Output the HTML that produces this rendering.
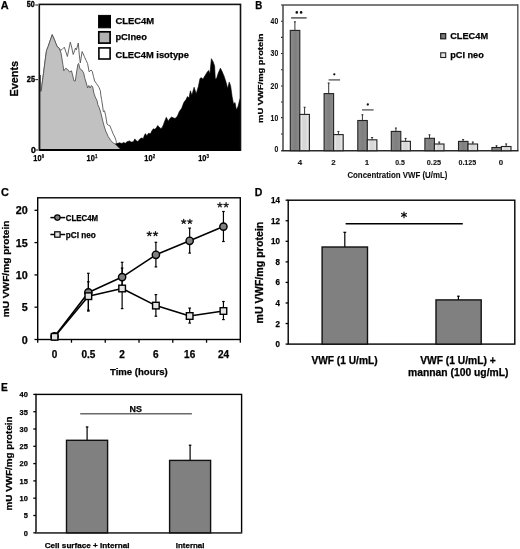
<!DOCTYPE html>
<html><head><meta charset="utf-8"><title>Figure</title>
<style>
html,body{margin:0;padding:0;background:#fff;}
body{width:520px;height:549px;overflow:hidden;}
svg{display:block;will-change:transform;font-family:"Liberation Sans", sans-serif;font-weight:bold;}
text{stroke:currentColor;stroke-width:0.25px;}
</style></head>
<body>
<svg width="520" height="549" viewBox="0 0 520 549">
<rect width="520" height="549" fill="#fff"/>
<text x="0.7" y="9.2" font-size="11" textLength="7.9" lengthAdjust="spacingAndGlyphs">A</text>
<polygon points="40.0,75 40.5,91.5 41.2,91.2 42.2,83 43.3,75 45.1,60.8 46.5,50.7 48.1,46.6 52.2,34.7 54.6,40.2 57.1,46.6 59,47.9 60.6,50.4 62,49.5 64.3,47.2 65.6,51 67.4,56.5 68.9,49 70.3,42.2 71.6,47 73.2,54.5 74.5,51 75.5,48 76.4,49.9 78.3,43 79.3,55 80.3,63 82.1,51.5 84.4,56.6 86.1,60.5 87.6,63.6 89.1,71.8 91.1,70 92.3,71.5 93.5,76.6 94.6,81 96.5,83.6 99,87.4 100.3,90.6 100.9,95.7 101.6,99.5 102.9,108 103.3,111.6 104.5,110.8 105.7,115.7 107,124 108.2,125.2 109.8,125.6 111.5,129.7 113.1,133.8 114.8,137 116,140.3 116.4,142.8 117.2,143.6 119,147 121,150.5 40,150.5" fill="#fff" stroke="#555" stroke-width="0.9" stroke-linejoin="round"/>
<polygon points="112,150.5 114.9,144.1 117.8,143.3 119.5,142.7 121.8,143.5 123.6,142.4 125.3,143.3 127,141.8 129.4,140.9 131.1,142.1 133.4,141.8 134.8,138.9 136.3,140.7 138,141.6 139.4,139.4 141.3,138 143.3,138.5 144.7,134.6 145.7,133.7 146.6,136.1 148.6,133.2 150.5,133.7 151.9,130.8 153.4,128.8 154.8,129.3 156.3,127.9 157.7,125.5 159.1,126.9 160.6,128.4 162,127.9 163.5,124.5 164.9,120.7 166.3,117.3 167.3,119.2 168.3,121.2 169.7,118.8 171.6,117.1 173.1,117.8 175.1,118.5 177.3,116.3 179.5,111.2 181.7,108.3 183.8,102.5 186,99.6 187.5,96.6 189,98.1 190.4,90.8 191.9,95.2 194.1,87.2 196.2,93.7 198.4,86.4 200,78.4 201.5,77.7 202.9,79.2 205.1,75.5 207.3,71.9 208.7,70.4 209.9,74 211.4,58.7 213.1,61.7 214.6,66 215.3,79.2 216.8,77.7 218.2,73.3 220.4,68.2 221.9,71.1 224.1,76.2 226.2,82.8 227.7,88.6 229.2,82.1 230.6,85.7 232.1,96.6 233.5,103.9 235,102.5 236.4,109.8 237.9,106.9 239.4,101 240.4,98.1 240.4,150.5" fill="#000" stroke="#000" stroke-width="0.6" stroke-linejoin="round"/>
<polygon points="40.0,75 40.5,91.5 41.2,91.2 42.2,83 43.3,75 45.1,60.8 46.5,50.7 48.1,46.6 52.2,34.7 54.6,40.2 57.1,46.6 59,47.9 61,53 62.9,64.4 63.8,70.8 65.7,68.3 67.7,69.5 69.6,72 71.5,70.8 72.8,76 74,81 75.3,81 76.6,72 77.9,64.4 78.6,63.4 79.9,68.7 81.8,70 83.7,73.1 84.9,78.5 86.3,83 87.6,88 88.8,85.5 90.1,88 91.4,85.5 92.7,86.8 93.9,93.2 95.2,97 97.1,100.8 97.8,104.6 99,107.2 100.3,111 101.6,116 102.9,121.5 104.1,126 105.7,131 108.2,136.5 110.7,140.5 113.1,142.8 115.6,144.4 118,146.9 120.5,149.3 122,150.5 40,150.5" fill="#c1c1c1" stroke="#555" stroke-width="0.9" stroke-linejoin="round"/>
<rect x="39.3" y="4.4" width="201.2" height="145.6" fill="none" stroke="#111" stroke-width="1.6"/>
<line x1="39.3" y1="150.0" x2="240.5" y2="150.0" stroke="#000" stroke-width="2.1"/>
<text x="26.7" y="6.9" font-size="9.2" textLength="7.9" lengthAdjust="spacingAndGlyphs" style="stroke-width:0.4px">50</text>
<text x="26.8" y="81.9" font-size="9.2" textLength="8.2" lengthAdjust="spacingAndGlyphs" style="stroke-width:0.4px">25</text>
<text x="31.0" y="152.8" font-size="9.2" textLength="4.8" lengthAdjust="spacingAndGlyphs" style="stroke-width:0.4px">0</text>
<line x1="35.3" y1="5.0" x2="38.0" y2="5.0" stroke="#333" stroke-width="1.1"/>
<line x1="35.3" y1="79.6" x2="38.0" y2="79.6" stroke="#333" stroke-width="1.1"/>
<line x1="35.3" y1="150.0" x2="38.0" y2="150.0" stroke="#333" stroke-width="1.1"/>
<text transform="translate(17.6 78.7) rotate(-90)" text-anchor="middle" font-size="10.8" textLength="35.5" lengthAdjust="spacingAndGlyphs">Events</text>
<text x="33.3" y="160.7" font-size="8.2" textLength="8.2" lengthAdjust="spacingAndGlyphs">10</text>
<text x="41.699999999999996" y="158.1" font-size="5.4" textLength="2.4" lengthAdjust="spacingAndGlyphs">0</text>
<text x="86.6" y="160.7" font-size="8.2" textLength="8.2" lengthAdjust="spacingAndGlyphs">10</text>
<text x="95.0" y="158.1" font-size="5.4" textLength="2.4" lengthAdjust="spacingAndGlyphs">1</text>
<text x="144.3" y="160.7" font-size="8.2" textLength="8.2" lengthAdjust="spacingAndGlyphs">10</text>
<text x="152.70000000000002" y="158.1" font-size="5.4" textLength="2.4" lengthAdjust="spacingAndGlyphs">2</text>
<text x="198.2" y="160.7" font-size="8.2" textLength="8.2" lengthAdjust="spacingAndGlyphs">10</text>
<text x="206.6" y="158.1" font-size="5.4" textLength="2.4" lengthAdjust="spacingAndGlyphs">3</text>
<rect x="98.6" y="15.4" width="11.9" height="12.4" fill="#000" stroke="#000" stroke-width="1.0"/>
<rect x="98.8" y="31.8" width="11.3" height="11.3" fill="#b2b2b2" stroke="#000" stroke-width="1.7"/>
<rect x="98.9" y="47.9" width="11.2" height="11.1" fill="#fff" stroke="#000" stroke-width="1.6"/>
<text x="115.4" y="24.2" font-size="9.8" textLength="38.8" lengthAdjust="spacingAndGlyphs">CLEC4M</text>
<text x="115.4" y="39.9" font-size="9.8" textLength="31.6" lengthAdjust="spacingAndGlyphs">pCIneo</text>
<text x="115.4" y="58.2" font-size="9.8" textLength="73.6" lengthAdjust="spacingAndGlyphs">CLEC4M isotype</text>
<text x="255.3" y="8.9" font-size="10.2" textLength="7.0" lengthAdjust="spacingAndGlyphs">B</text>
<line x1="281.0" y1="21.2" x2="283" y2="21.2" stroke="#222" stroke-width="1.1"/>
<line x1="281.0" y1="37.4" x2="283" y2="37.4" stroke="#222" stroke-width="1.1"/>
<line x1="281.0" y1="53.5" x2="283" y2="53.5" stroke="#222" stroke-width="1.1"/>
<line x1="281.0" y1="69.8" x2="283" y2="69.8" stroke="#222" stroke-width="1.1"/>
<line x1="281.0" y1="86.0" x2="283" y2="86.0" stroke="#222" stroke-width="1.1"/>
<line x1="281.0" y1="102.0" x2="283" y2="102.0" stroke="#222" stroke-width="1.1"/>
<line x1="281.0" y1="117.6" x2="283" y2="117.6" stroke="#222" stroke-width="1.1"/>
<line x1="281.0" y1="134.0" x2="283" y2="134.0" stroke="#222" stroke-width="1.1"/>
<text x="278.2" y="151.6" font-size="8.6" text-anchor="end" fill="#111" textLength="3.8" lengthAdjust="spacingAndGlyphs" style="stroke-width:0.1px">0</text>
<text x="278.2" y="120.5" font-size="8.6" text-anchor="end" fill="#111" textLength="7.6" lengthAdjust="spacingAndGlyphs" style="stroke-width:0.1px">10</text>
<text x="278.2" y="88.9" font-size="8.6" text-anchor="end" fill="#111" textLength="7.6" lengthAdjust="spacingAndGlyphs" style="stroke-width:0.1px">20</text>
<text x="278.2" y="56.4" font-size="8.6" text-anchor="end" fill="#111" textLength="7.6" lengthAdjust="spacingAndGlyphs" style="stroke-width:0.1px">30</text>
<text x="278.2" y="23.7" font-size="8.6" text-anchor="end" fill="#111" textLength="7.6" lengthAdjust="spacingAndGlyphs" style="stroke-width:0.1px">40</text>
<line x1="283" y1="4.9" x2="283" y2="150.7" stroke="#505050" stroke-width="1.6"/>
<line x1="281.2" y1="4.9" x2="518" y2="4.9" stroke="#505050" stroke-width="1.5"/>
<line x1="517.8" y1="4.2" x2="517.8" y2="150.7" stroke="#505050" stroke-width="1.4"/>
<line x1="281.2" y1="150.7" x2="518.5" y2="150.7" stroke="#2a2a2a" stroke-width="1.6"/>
<defs><linearGradient id="gd" x1="0" x2="1" y1="0" y2="0"><stop offset="0" stop-color="#8c8c8c"/><stop offset="0.5" stop-color="#7f7f7f"/><stop offset="1" stop-color="#8a8a8a"/></linearGradient><linearGradient id="gl" x1="0" x2="1" y1="0" y2="0"><stop offset="0" stop-color="#dcdcdc"/><stop offset="0.15" stop-color="#ebebeb"/><stop offset="0.3" stop-color="#d8d8d8"/><stop offset="0.65" stop-color="#d8d8d8"/><stop offset="0.82" stop-color="#e6e6e6"/><stop offset="1" stop-color="#cfcfcf"/></linearGradient></defs>
<line x1="294.90000000000003" y1="21.5" x2="294.90000000000003" y2="30.4" stroke="#333" stroke-width="1.0"/>
<line x1="293.90000000000003" y1="21.9" x2="295.90000000000003" y2="21.9" stroke="#333" stroke-width="1.0"/>
<line x1="304.6" y1="106.9" x2="304.6" y2="114.4" stroke="#333" stroke-width="1.0"/>
<line x1="303.6" y1="107.30000000000001" x2="305.6" y2="107.30000000000001" stroke="#333" stroke-width="1.0"/>
<rect x="290.30" y="30.4" width="9.5" height="120.30" fill="url(#gd)" stroke="#222" stroke-width="1.1"/>
<rect x="299.80" y="114.4" width="9.6" height="36.30" fill="url(#gl)" stroke="#222" stroke-width="1.1"/>
<line x1="328.70000000000005" y1="82.7" x2="328.70000000000005" y2="93.6" stroke="#333" stroke-width="1.0"/>
<line x1="327.70000000000005" y1="83.10000000000001" x2="329.70000000000005" y2="83.10000000000001" stroke="#333" stroke-width="1.0"/>
<line x1="338.40000000000003" y1="131.1" x2="338.40000000000003" y2="134.6" stroke="#333" stroke-width="1.0"/>
<line x1="337.40000000000003" y1="131.5" x2="339.40000000000003" y2="131.5" stroke="#333" stroke-width="1.0"/>
<rect x="324.10" y="93.6" width="9.5" height="57.10" fill="url(#gd)" stroke="#222" stroke-width="1.1"/>
<rect x="333.60" y="134.6" width="9.6" height="16.10" fill="url(#gl)" stroke="#222" stroke-width="1.1"/>
<line x1="362.40000000000003" y1="114.4" x2="362.40000000000003" y2="120.5" stroke="#333" stroke-width="1.0"/>
<line x1="361.40000000000003" y1="114.80000000000001" x2="363.40000000000003" y2="114.80000000000001" stroke="#333" stroke-width="1.0"/>
<line x1="372.1" y1="137.1" x2="372.1" y2="139.8" stroke="#333" stroke-width="1.0"/>
<line x1="371.1" y1="137.5" x2="373.1" y2="137.5" stroke="#333" stroke-width="1.0"/>
<rect x="357.80" y="120.5" width="9.5" height="30.20" fill="url(#gd)" stroke="#222" stroke-width="1.1"/>
<rect x="367.30" y="139.8" width="9.6" height="10.90" fill="url(#gl)" stroke="#222" stroke-width="1.1"/>
<line x1="395.90000000000003" y1="127.7" x2="395.90000000000003" y2="131.4" stroke="#333" stroke-width="1.0"/>
<line x1="394.90000000000003" y1="128.1" x2="396.90000000000003" y2="128.1" stroke="#333" stroke-width="1.0"/>
<line x1="405.6" y1="138.0" x2="405.6" y2="141.3" stroke="#333" stroke-width="1.0"/>
<line x1="404.6" y1="138.4" x2="406.6" y2="138.4" stroke="#333" stroke-width="1.0"/>
<rect x="391.30" y="131.4" width="9.5" height="19.30" fill="url(#gd)" stroke="#222" stroke-width="1.1"/>
<rect x="400.80" y="141.3" width="9.6" height="9.40" fill="url(#gl)" stroke="#222" stroke-width="1.1"/>
<line x1="429.5" y1="134.5" x2="429.5" y2="138.3" stroke="#333" stroke-width="1.0"/>
<line x1="428.5" y1="134.9" x2="430.5" y2="134.9" stroke="#333" stroke-width="1.0"/>
<line x1="439.2" y1="141.7" x2="439.2" y2="144.0" stroke="#333" stroke-width="1.0"/>
<line x1="438.2" y1="142.1" x2="440.2" y2="142.1" stroke="#333" stroke-width="1.0"/>
<rect x="424.90" y="138.3" width="9.5" height="12.40" fill="url(#gd)" stroke="#222" stroke-width="1.1"/>
<rect x="434.40" y="144.0" width="9.6" height="6.70" fill="url(#gl)" stroke="#222" stroke-width="1.1"/>
<line x1="463.1" y1="139.2" x2="463.1" y2="141.4" stroke="#333" stroke-width="1.0"/>
<line x1="462.1" y1="139.6" x2="464.1" y2="139.6" stroke="#333" stroke-width="1.0"/>
<line x1="472.8" y1="141.7" x2="472.8" y2="144.0" stroke="#333" stroke-width="1.0"/>
<line x1="471.8" y1="142.1" x2="473.8" y2="142.1" stroke="#333" stroke-width="1.0"/>
<rect x="458.50" y="141.4" width="9.5" height="9.30" fill="url(#gd)" stroke="#222" stroke-width="1.1"/>
<rect x="468.00" y="144.0" width="9.6" height="6.70" fill="url(#gl)" stroke="#222" stroke-width="1.1"/>
<line x1="496.5" y1="145.4" x2="496.5" y2="147.5" stroke="#333" stroke-width="1.0"/>
<line x1="495.5" y1="145.8" x2="497.5" y2="145.8" stroke="#333" stroke-width="1.0"/>
<line x1="506.2" y1="143.6" x2="506.2" y2="146.5" stroke="#333" stroke-width="1.0"/>
<line x1="505.2" y1="144.0" x2="507.2" y2="144.0" stroke="#333" stroke-width="1.0"/>
<rect x="491.90" y="147.5" width="9.5" height="3.20" fill="url(#gd)" stroke="#222" stroke-width="1.1"/>
<rect x="501.40" y="146.5" width="9.6" height="4.20" fill="url(#gl)" stroke="#222" stroke-width="1.1"/>
<line x1="291.1" y1="17.9" x2="306.6" y2="17.9" stroke="#555" stroke-width="1.5"/>
<circle cx="296.8" cy="12.4" r="1.3" fill="#111"/><circle cx="301.1" cy="12.4" r="1.3" fill="#111"/>
<line x1="328.6" y1="79.9" x2="340.1" y2="79.9" stroke="#555" stroke-width="1.3"/>
<circle cx="334.3" cy="74.3" r="1.15" fill="#111"/>
<line x1="362.0" y1="109.9" x2="373.6" y2="109.9" stroke="#555" stroke-width="1.3"/>
<circle cx="367.8" cy="104.5" r="1.15" fill="#111"/>
<rect x="440.7" y="33.6" width="5.0" height="5.2" fill="#7a7a7a" stroke="#1a1a1a" stroke-width="1.2"/>
<rect x="440.7" y="52.8" width="5.0" height="4.7" fill="#e4e4e4" stroke="#222" stroke-width="1.1"/>
<text x="450.2" y="39.4" font-size="9.8" textLength="37.9" lengthAdjust="spacingAndGlyphs">CLEC4M</text>
<text x="450.2" y="57.9" font-size="9.8" textLength="33.6" lengthAdjust="spacingAndGlyphs">pCI neo</text>
<text x="299.95" y="164.7" font-size="8.0" text-anchor="middle" fill="#111" textLength="4.4" lengthAdjust="spacingAndGlyphs" style="stroke-width:0.1px">4</text>
<text x="333.35" y="164.7" font-size="8.0" text-anchor="middle" fill="#111" textLength="4.4" lengthAdjust="spacingAndGlyphs" style="stroke-width:0.1px">2</text>
<text x="367.0" y="164.7" font-size="8.0" text-anchor="middle" fill="#111" textLength="4.4" lengthAdjust="spacingAndGlyphs" style="stroke-width:0.1px">1</text>
<text x="400.0" y="164.7" font-size="8.0" text-anchor="middle" fill="#111" textLength="9.6" lengthAdjust="spacingAndGlyphs" style="stroke-width:0.1px">0.5</text>
<text x="433.9" y="164.7" font-size="8.0" text-anchor="middle" fill="#111" textLength="14.2" lengthAdjust="spacingAndGlyphs" style="stroke-width:0.1px">0.25</text>
<text x="467.35" y="164.7" font-size="8.0" text-anchor="middle" fill="#111" textLength="17.8" lengthAdjust="spacingAndGlyphs" style="stroke-width:0.1px">0.125</text>
<text x="501.0" y="164.7" font-size="8.0" text-anchor="middle" fill="#111" textLength="4.4" lengthAdjust="spacingAndGlyphs" style="stroke-width:0.1px">0</text>
<text x="347.4" y="178.0" font-size="8.2" fill="#111" textLength="99.9" lengthAdjust="spacingAndGlyphs" style="stroke-width:0.1px">Concentration VWF (U/mL)</text>
<text transform="translate(263.2 78.2) rotate(-90)" text-anchor="middle" font-size="7.9" textLength="89.4" lengthAdjust="spacingAndGlyphs">mU VWF/mg protein</text>
<text x="0.9" y="196.1" font-size="11.2" textLength="7.9" lengthAdjust="spacingAndGlyphs">C</text>
<line x1="34.5" y1="339.5" x2="37.7" y2="339.5" stroke="#000" stroke-width="1.3"/>
<text x="27.8" y="343.6" font-size="10.6" text-anchor="end" textLength="6.0" lengthAdjust="spacingAndGlyphs">0</text>
<line x1="34.5" y1="307.2" x2="37.7" y2="307.2" stroke="#000" stroke-width="1.3"/>
<text x="27.8" y="311.3" font-size="10.6" text-anchor="end" textLength="6.0" lengthAdjust="spacingAndGlyphs">5</text>
<line x1="34.5" y1="274.9" x2="37.7" y2="274.9" stroke="#000" stroke-width="1.3"/>
<text x="27.8" y="279.0" font-size="10.6" text-anchor="end" textLength="12.0" lengthAdjust="spacingAndGlyphs">10</text>
<line x1="34.5" y1="242.6" x2="37.7" y2="242.6" stroke="#000" stroke-width="1.3"/>
<text x="27.8" y="246.7" font-size="10.6" text-anchor="end" textLength="12.0" lengthAdjust="spacingAndGlyphs">15</text>
<line x1="34.5" y1="210.3" x2="37.7" y2="210.3" stroke="#000" stroke-width="1.3"/>
<text x="27.8" y="214.4" font-size="10.6" text-anchor="end" textLength="12.0" lengthAdjust="spacingAndGlyphs">20</text>
<line x1="37.7" y1="339.5" x2="37.7" y2="342.7" stroke="#000" stroke-width="1.3"/>
<line x1="71.47" y1="339.5" x2="71.47" y2="342.7" stroke="#000" stroke-width="1.3"/>
<line x1="105.24000000000001" y1="339.5" x2="105.24000000000001" y2="342.7" stroke="#000" stroke-width="1.3"/>
<line x1="139.01" y1="339.5" x2="139.01" y2="342.7" stroke="#000" stroke-width="1.3"/>
<line x1="172.78000000000003" y1="339.5" x2="172.78000000000003" y2="342.7" stroke="#000" stroke-width="1.3"/>
<line x1="206.55" y1="339.5" x2="206.55" y2="342.7" stroke="#000" stroke-width="1.3"/>
<line x1="240.32" y1="339.5" x2="240.32" y2="342.7" stroke="#000" stroke-width="1.3"/>
<rect x="37.7" y="197.8" width="202.6" height="141.7" fill="none" stroke="#000" stroke-width="1.4"/>
<line x1="88.355" y1="273.3" x2="88.355" y2="311.1" stroke="#000" stroke-width="1.2"/>
<line x1="87.055" y1="273.3" x2="89.655" y2="273.3" stroke="#000" stroke-width="1.2"/>
<line x1="87.055" y1="311.1" x2="89.655" y2="311.1" stroke="#000" stroke-width="1.2"/>
<line x1="88.355" y1="281.8" x2="88.355" y2="310.2" stroke="#000" stroke-width="1.2"/>
<line x1="87.055" y1="281.8" x2="89.655" y2="281.8" stroke="#000" stroke-width="1.2"/>
<line x1="87.055" y1="310.2" x2="89.655" y2="310.2" stroke="#000" stroke-width="1.2"/>
<line x1="122.125" y1="262.3" x2="122.125" y2="291.3" stroke="#000" stroke-width="1.2"/>
<line x1="120.825" y1="262.3" x2="123.425" y2="262.3" stroke="#000" stroke-width="1.2"/>
<line x1="120.825" y1="291.3" x2="123.425" y2="291.3" stroke="#000" stroke-width="1.2"/>
<line x1="122.125" y1="268.1" x2="122.125" y2="308.6" stroke="#000" stroke-width="1.2"/>
<line x1="120.825" y1="268.1" x2="123.425" y2="268.1" stroke="#000" stroke-width="1.2"/>
<line x1="120.825" y1="308.6" x2="123.425" y2="308.6" stroke="#000" stroke-width="1.2"/>
<line x1="155.895" y1="242.3" x2="155.895" y2="266.9" stroke="#000" stroke-width="1.2"/>
<line x1="154.595" y1="242.3" x2="157.19500000000002" y2="242.3" stroke="#000" stroke-width="1.2"/>
<line x1="154.595" y1="266.9" x2="157.19500000000002" y2="266.9" stroke="#000" stroke-width="1.2"/>
<line x1="155.895" y1="294.6" x2="155.895" y2="316.2" stroke="#000" stroke-width="1.2"/>
<line x1="154.595" y1="294.6" x2="157.19500000000002" y2="294.6" stroke="#000" stroke-width="1.2"/>
<line x1="154.595" y1="316.2" x2="157.19500000000002" y2="316.2" stroke="#000" stroke-width="1.2"/>
<line x1="189.66500000000002" y1="228.1" x2="189.66500000000002" y2="253.1" stroke="#000" stroke-width="1.2"/>
<line x1="188.365" y1="228.1" x2="190.96500000000003" y2="228.1" stroke="#000" stroke-width="1.2"/>
<line x1="188.365" y1="253.1" x2="190.96500000000003" y2="253.1" stroke="#000" stroke-width="1.2"/>
<line x1="189.66500000000002" y1="308.1" x2="189.66500000000002" y2="323.1" stroke="#000" stroke-width="1.2"/>
<line x1="188.365" y1="308.1" x2="190.96500000000003" y2="308.1" stroke="#000" stroke-width="1.2"/>
<line x1="188.365" y1="323.1" x2="190.96500000000003" y2="323.1" stroke="#000" stroke-width="1.2"/>
<line x1="223.435" y1="211.5" x2="223.435" y2="241.5" stroke="#000" stroke-width="1.2"/>
<line x1="222.135" y1="211.5" x2="224.735" y2="211.5" stroke="#000" stroke-width="1.2"/>
<line x1="222.135" y1="241.5" x2="224.735" y2="241.5" stroke="#000" stroke-width="1.2"/>
<line x1="223.435" y1="301.5" x2="223.435" y2="319.6" stroke="#000" stroke-width="1.2"/>
<line x1="222.135" y1="301.5" x2="224.735" y2="301.5" stroke="#000" stroke-width="1.2"/>
<line x1="222.135" y1="319.6" x2="224.735" y2="319.6" stroke="#000" stroke-width="1.2"/>
<polyline points="54.585,336.4 88.355,292.4 122.125,277.1 155.895,254.8 189.66500000000002,240.8 223.435,226.6" fill="none" stroke="#000" stroke-width="1.6" stroke-linejoin="round"/>
<polyline points="54.585,336.8 88.355,296.2 122.125,288.5 155.895,305.6 189.66500000000002,316.0 223.435,311.0" fill="none" stroke="#000" stroke-width="1.6" stroke-linejoin="round"/>
<circle cx="54.59" cy="336.4" r="3.65" fill="#808080" stroke="#000" stroke-width="1.4"/>
<circle cx="88.36" cy="292.4" r="3.65" fill="#808080" stroke="#000" stroke-width="1.4"/>
<circle cx="122.12" cy="277.1" r="3.65" fill="#808080" stroke="#000" stroke-width="1.4"/>
<circle cx="155.90" cy="254.8" r="3.65" fill="#808080" stroke="#000" stroke-width="1.4"/>
<circle cx="189.67" cy="240.8" r="3.65" fill="#808080" stroke="#000" stroke-width="1.4"/>
<circle cx="223.44" cy="226.6" r="3.65" fill="#808080" stroke="#000" stroke-width="1.4"/>
<rect x="51.29" y="333.50" width="6.6" height="6.6" fill="#e4e4e4" stroke="#000" stroke-width="1.4"/>
<rect x="85.06" y="292.90" width="6.6" height="6.6" fill="#e4e4e4" stroke="#000" stroke-width="1.4"/>
<rect x="118.83" y="285.20" width="6.6" height="6.6" fill="#e4e4e4" stroke="#000" stroke-width="1.4"/>
<rect x="152.59" y="302.30" width="6.6" height="6.6" fill="#e4e4e4" stroke="#000" stroke-width="1.4"/>
<rect x="186.37" y="312.70" width="6.6" height="6.6" fill="#e4e4e4" stroke="#000" stroke-width="1.4"/>
<rect x="220.13" y="307.70" width="6.6" height="6.6" fill="#e4e4e4" stroke="#000" stroke-width="1.4"/>
<path d="M149.30,233.80L149.30,231.50M149.30,233.80L147.11,233.09M149.30,233.80L147.95,235.66M149.30,233.80L150.65,235.66M149.30,233.80L151.49,233.09" stroke="#1a1a1a" stroke-width="1.25" stroke-linecap="round" fill="none"/>
<path d="M155.50,233.80L155.50,231.50M155.50,233.80L153.31,233.09M155.50,233.80L154.15,235.66M155.50,233.80L156.85,235.66M155.50,233.80L157.69,233.09" stroke="#1a1a1a" stroke-width="1.25" stroke-linecap="round" fill="none"/>
<path d="M183.70,221.60L183.70,219.30M183.70,221.60L181.51,220.89M183.70,221.60L182.35,223.46M183.70,221.60L185.05,223.46M183.70,221.60L185.89,220.89" stroke="#1a1a1a" stroke-width="1.25" stroke-linecap="round" fill="none"/>
<path d="M189.90,221.60L189.90,219.30M189.90,221.60L187.71,220.89M189.90,221.60L188.55,223.46M189.90,221.60L191.25,223.46M189.90,221.60L192.09,220.89" stroke="#1a1a1a" stroke-width="1.25" stroke-linecap="round" fill="none"/>
<path d="M219.90,205.00L219.90,202.70M219.90,205.00L217.71,204.29M219.90,205.00L218.55,206.86M219.90,205.00L221.25,206.86M219.90,205.00L222.09,204.29" stroke="#1a1a1a" stroke-width="1.25" stroke-linecap="round" fill="none"/>
<path d="M226.10,205.00L226.10,202.70M226.10,205.00L223.91,204.29M226.10,205.00L224.75,206.86M226.10,205.00L227.45,206.86M226.10,205.00L228.29,204.29" stroke="#1a1a1a" stroke-width="1.25" stroke-linecap="round" fill="none"/>
<line x1="50.4" y1="217.6" x2="65.2" y2="217.6" stroke="#000" stroke-width="1.5"/>
<circle cx="57.4" cy="217.6" r="2.7" fill="#7f7f7f" stroke="#000" stroke-width="1.2"/>
<line x1="50.4" y1="234.5" x2="65.2" y2="234.5" stroke="#000" stroke-width="1.5"/>
<rect x="54.7" y="231.8" width="5.4" height="5.4" fill="#e2e2e2" stroke="#000" stroke-width="1.2"/>
<text x="65.8" y="220.8" font-size="8.2" textLength="32.3" lengthAdjust="spacingAndGlyphs">CLEC4M</text>
<text x="65.8" y="237.6" font-size="8.2" textLength="30.0" lengthAdjust="spacingAndGlyphs">pCI neo</text>
<text x="54.59" y="357.8" font-size="10" text-anchor="middle">0</text>
<text x="88.36" y="357.8" font-size="10" text-anchor="middle">0.5</text>
<text x="122.12" y="357.8" font-size="10" text-anchor="middle">2</text>
<text x="155.9" y="357.8" font-size="10" text-anchor="middle">6</text>
<text x="189.67" y="357.8" font-size="10" text-anchor="middle">16</text>
<text x="223.44" y="357.8" font-size="10" text-anchor="middle">24</text>
<text x="110.0" y="375.4" font-size="9.9" textLength="57.8" lengthAdjust="spacingAndGlyphs">Time (hours)</text>
<text transform="translate(8.7 268.9) rotate(-90)" text-anchor="middle" font-size="9.9" textLength="96.8" lengthAdjust="spacingAndGlyphs">mU VWF/mg protein</text>
<text x="254.8" y="196.1" font-size="10.5" textLength="7.6" lengthAdjust="spacingAndGlyphs">D</text>
<line x1="285.6" y1="344.1" x2="288.2" y2="344.1" stroke="#000" stroke-width="1.3"/>
<text x="279.9" y="347.1" font-size="8.2" text-anchor="end" textLength="4.45" lengthAdjust="spacingAndGlyphs">0</text>
<line x1="285.6" y1="323.54" x2="288.2" y2="323.54" stroke="#000" stroke-width="1.3"/>
<text x="279.9" y="326.54" font-size="8.2" text-anchor="end" textLength="4.45" lengthAdjust="spacingAndGlyphs">2</text>
<line x1="285.6" y1="302.98" x2="288.2" y2="302.98" stroke="#000" stroke-width="1.3"/>
<text x="279.9" y="305.98" font-size="8.2" text-anchor="end" textLength="4.45" lengthAdjust="spacingAndGlyphs">4</text>
<line x1="285.6" y1="282.42" x2="288.2" y2="282.42" stroke="#000" stroke-width="1.3"/>
<text x="279.9" y="285.42" font-size="8.2" text-anchor="end" textLength="4.45" lengthAdjust="spacingAndGlyphs">6</text>
<line x1="285.6" y1="261.86" x2="288.2" y2="261.86" stroke="#000" stroke-width="1.3"/>
<text x="279.9" y="264.86" font-size="8.2" text-anchor="end" textLength="4.45" lengthAdjust="spacingAndGlyphs">8</text>
<line x1="285.6" y1="241.3" x2="288.2" y2="241.3" stroke="#000" stroke-width="1.3"/>
<text x="279.9" y="244.3" font-size="8.2" text-anchor="end" textLength="8.9" lengthAdjust="spacingAndGlyphs">10</text>
<line x1="285.6" y1="220.74000000000004" x2="288.2" y2="220.74000000000004" stroke="#000" stroke-width="1.3"/>
<text x="279.9" y="223.74000000000004" font-size="8.2" text-anchor="end" textLength="8.9" lengthAdjust="spacingAndGlyphs">12</text>
<line x1="285.6" y1="200.18000000000004" x2="288.2" y2="200.18000000000004" stroke="#000" stroke-width="1.3"/>
<text x="279.9" y="203.18000000000004" font-size="8.2" text-anchor="end" textLength="8.9" lengthAdjust="spacingAndGlyphs">14</text>
<rect x="288.2" y="200.2" width="226.6" height="143.9" fill="none" stroke="#000" stroke-width="1.4"/>
<line x1="344.8" y1="232.1" x2="344.8" y2="247" stroke="#000" stroke-width="1.2"/>
<line x1="343.4" y1="232.3" x2="346.2" y2="232.3" stroke="#000" stroke-width="1.2"/>
<line x1="458.4" y1="296.0" x2="458.4" y2="300" stroke="#000" stroke-width="1.2"/>
<line x1="457.1" y1="296.2" x2="459.7" y2="296.2" stroke="#000" stroke-width="1.2"/>
<rect x="322.1" y="247.0" width="45.4" height="97.10000000000002" fill="#808080" stroke="#111" stroke-width="1.4"/>
<rect x="436.0" y="299.9" width="45.2" height="44.200000000000045" fill="#808080" stroke="#111" stroke-width="1.4"/>
<line x1="345.6" y1="223.7" x2="462.8" y2="223.7" stroke="#000" stroke-width="1.4"/>
<path d="M404.00,217.70L404.00,212.10M401.58,216.30L406.42,213.50M401.58,213.50L406.42,216.30" stroke="#111" stroke-width="1.2" stroke-linecap="round" fill="none"/>
<circle cx="404.0" cy="214.9" r="1.08" fill="#111"/>
<text x="311.4" y="363.8" font-size="10.1" textLength="66.2" lengthAdjust="spacingAndGlyphs">VWF (1 U/mL)</text>
<text x="420.2" y="363.9" font-size="10.1" textLength="75.6" lengthAdjust="spacingAndGlyphs">VWF (1 U/mL) +</text>
<text x="408.0" y="376.3" font-size="10.1" textLength="100.5" lengthAdjust="spacingAndGlyphs">mannan (100 ug/mL)</text>
<text transform="translate(262.9 272.6) rotate(-90)" text-anchor="middle" font-size="10" textLength="102" lengthAdjust="spacingAndGlyphs">mU VWF/mg protein</text>
<text x="0.9" y="391.4" font-size="10.5" textLength="6.8" lengthAdjust="spacingAndGlyphs">E</text>
<line x1="33.3" y1="532.8" x2="36" y2="532.8" stroke="#000" stroke-width="1.3"/>
<text x="27.8" y="535.5999999999999" font-size="7.8" text-anchor="end" textLength="4.15" lengthAdjust="spacingAndGlyphs">0</text>
<line x1="33.3" y1="515.5" x2="36" y2="515.5" stroke="#000" stroke-width="1.3"/>
<text x="27.8" y="518.3" font-size="7.8" text-anchor="end" textLength="4.15" lengthAdjust="spacingAndGlyphs">5</text>
<line x1="33.3" y1="498.19999999999993" x2="36" y2="498.19999999999993" stroke="#000" stroke-width="1.3"/>
<text x="27.8" y="500.99999999999994" font-size="7.8" text-anchor="end" textLength="8.3" lengthAdjust="spacingAndGlyphs">10</text>
<line x1="33.3" y1="480.9" x2="36" y2="480.9" stroke="#000" stroke-width="1.3"/>
<text x="27.8" y="483.7" font-size="7.8" text-anchor="end" textLength="8.3" lengthAdjust="spacingAndGlyphs">15</text>
<line x1="33.3" y1="463.59999999999997" x2="36" y2="463.59999999999997" stroke="#000" stroke-width="1.3"/>
<text x="27.8" y="466.4" font-size="7.8" text-anchor="end" textLength="8.3" lengthAdjust="spacingAndGlyphs">20</text>
<line x1="33.3" y1="446.29999999999995" x2="36" y2="446.29999999999995" stroke="#000" stroke-width="1.3"/>
<text x="27.8" y="449.09999999999997" font-size="7.8" text-anchor="end" textLength="8.3" lengthAdjust="spacingAndGlyphs">25</text>
<line x1="33.3" y1="428.99999999999994" x2="36" y2="428.99999999999994" stroke="#000" stroke-width="1.3"/>
<text x="27.8" y="431.79999999999995" font-size="7.8" text-anchor="end" textLength="8.3" lengthAdjust="spacingAndGlyphs">30</text>
<line x1="33.3" y1="411.69999999999993" x2="36" y2="411.69999999999993" stroke="#000" stroke-width="1.3"/>
<text x="27.8" y="414.49999999999994" font-size="7.8" text-anchor="end" textLength="8.3" lengthAdjust="spacingAndGlyphs">35</text>
<line x1="33.3" y1="394.4" x2="36" y2="394.4" stroke="#000" stroke-width="1.3"/>
<text x="27.8" y="397.2" font-size="7.8" text-anchor="end" textLength="8.3" lengthAdjust="spacingAndGlyphs">40</text>
<rect x="36" y="394.4" width="205.6" height="138.4" fill="none" stroke="#000" stroke-width="1.4"/>
<line x1="36" y1="532.8" x2="241.6" y2="532.8" stroke="#444" stroke-width="1.5"/>
<line x1="87.1" y1="426.8" x2="87.1" y2="440.3" stroke="#000" stroke-width="1.2"/>
<line x1="85.8" y1="427.0" x2="88.4" y2="427.0" stroke="#000" stroke-width="1.2"/>
<line x1="190.1" y1="445.0" x2="190.1" y2="460.4" stroke="#000" stroke-width="1.2"/>
<line x1="188.8" y1="445.2" x2="191.4" y2="445.2" stroke="#000" stroke-width="1.2"/>
<rect x="66.5" y="440.3" width="41.1" height="92.49999999999994" fill="#808080" stroke="#111" stroke-width="1.4"/>
<rect x="169.6" y="460.4" width="41.0" height="72.39999999999998" fill="#808080" stroke="#111" stroke-width="1.4"/>
<line x1="80.2" y1="413.8" x2="191.9" y2="413.8" stroke="#6a6a6a" stroke-width="1.6"/>
<text x="129.6" y="412.2" font-size="9.9" textLength="12.4" lengthAdjust="spacingAndGlyphs">NS</text>
<text x="44.7" y="548.1" font-size="8.1" textLength="84.8" lengthAdjust="spacingAndGlyphs">Cell surface + internal</text>
<text x="175.8" y="547.8" font-size="8.1" textLength="28.7" lengthAdjust="spacingAndGlyphs">Internal</text>
<text transform="translate(12.3 463.4) rotate(-90)" text-anchor="middle" font-size="9.4" textLength="94" lengthAdjust="spacingAndGlyphs">mU VWF/mg protein</text>
</svg>
</body></html>
